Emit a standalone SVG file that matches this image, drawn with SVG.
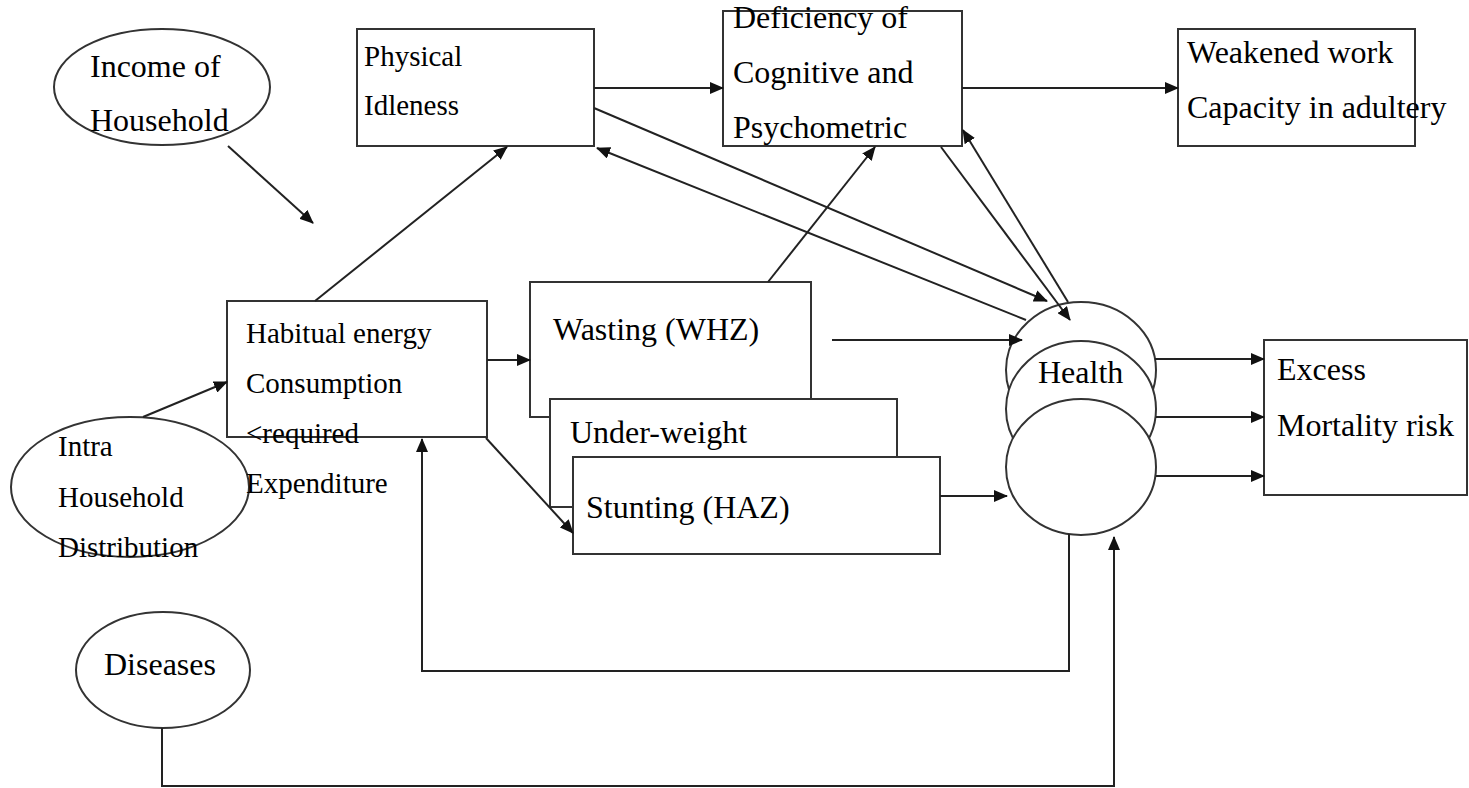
<svg xmlns="http://www.w3.org/2000/svg" width="1469" height="788" viewBox="0 0 1469 788">
<style>
.n{fill:#fff;stroke:#333;stroke-width:2}
.t{font-family:"Liberation Serif","Times New Roman",serif;font-size:32px;fill:#000}
.s{font-size:29px}
.c{fill:none;stroke:#222;stroke-width:2}
</style>
<defs>
<marker id="a" markerUnits="userSpaceOnUse" markerWidth="14" markerHeight="12" refX="13" refY="6" orient="auto">
<path d="M0,0 L14,6 L0,12 Z" fill="#111"/>
</marker>
</defs>
<rect width="1469" height="788" fill="#fff"/>
<g id="income"><ellipse class="n" cx="162" cy="87" rx="108" ry="58"/><text class="t" x="90" y="77">Income of</text><text class="t" x="90" y="131">Household</text></g>
<g id="physical"><rect class="n" x="357" y="29" width="237" height="117"/><text class="t s" x="364" y="66">Physical</text><text class="t s" x="364" y="115">Idleness</text></g>
<g id="deficiency"><rect class="n" x="723" y="11" width="239" height="135"/><text class="t" x="733" y="28">Deficiency of</text><text class="t" x="733" y="83">Cognitive and</text><text class="t" x="733" y="138">Psychometric</text></g>
<g id="weakened"><rect class="n" x="1178" y="29" width="237" height="117"/><text class="t" x="1187" y="63">Weakened work</text><text class="t" x="1187" y="118">Capacity in adultery</text></g>
<g id="intra"><ellipse class="n" cx="130" cy="487" rx="119" ry="70"/></g>
<g id="habitual"><rect class="n" x="227" y="301" width="260" height="136"/></g>
<g id="wasting"><rect class="n" x="530" y="282" width="281" height="135"/><text class="t" x="553" y="340">Wasting (WHZ)</text></g>
<g id="underweight"><rect class="n" x="550" y="399" width="347" height="108"/><text class="t" x="570" y="443">Under-weight</text></g>
<g id="stunting"><rect class="n" x="573" y="457" width="367" height="97"/><text class="t" x="586" y="518">Stunting (HAZ)</text></g>
<g id="health"><ellipse class="n" cx="1081" cy="370" rx="75" ry="68"/><ellipse class="n" cx="1081" cy="409" rx="75" ry="68"/><ellipse class="n" cx="1081" cy="467" rx="75" ry="68"/><text class="t" x="1038" y="383">Health</text></g>
<g id="excess"><rect class="n" x="1264" y="340" width="203" height="155"/><text class="t" x="1277" y="380">Excess</text><text class="t" x="1277" y="436">Mortality risk</text></g>
<g id="diseases"><ellipse class="n" cx="163" cy="670" rx="87" ry="58"/><text class="t" x="104" y="675">Diseases</text></g>
<g id="intra-text"><text class="t s" x="58" y="456">Intra</text><text class="t s" x="58" y="507">Household</text><text class="t s" x="58" y="557">Distribution</text></g>
<g id="habitual-text"><text class="t s" x="246" y="343">Habitual energy</text><text class="t s" x="246" y="393">Consumption</text><text class="t s" x="246" y="443">&lt;required</text><text class="t s" x="246" y="493">Expenditure</text></g>
<g id="connectors" class="c">
<line class="c" x1="594" y1="88" x2="723" y2="88" marker-end="url(#a)"/>
<line class="c" x1="962" y1="88" x2="1178" y2="88" marker-end="url(#a)"/>
<line class="c" x1="228" y1="146" x2="313" y2="223" marker-end="url(#a)"/>
<line class="c" x1="143" y1="417" x2="227" y2="382" marker-end="url(#a)"/>
<line class="c" x1="315" y1="301" x2="507" y2="147" marker-end="url(#a)"/>
<line class="c" x1="487" y1="360" x2="530" y2="360" marker-end="url(#a)"/>
<line class="c" x1="486" y1="438" x2="573" y2="533" marker-end="url(#a)"/>
<line class="c" x1="768" y1="282" x2="875" y2="147" marker-end="url(#a)"/>
<line class="c" x1="594" y1="108" x2="1047" y2="301" marker-end="url(#a)"/>
<line class="c" x1="1026" y1="320" x2="597" y2="148" marker-end="url(#a)"/>
<line class="c" x1="941" y1="147" x2="1070" y2="320" marker-end="url(#a)"/>
<line class="c" x1="1068" y1="302" x2="963" y2="130" marker-end="url(#a)"/>
<line class="c" x1="832" y1="340" x2="1022" y2="340" marker-end="url(#a)"/>
<line class="c" x1="940" y1="496" x2="1007" y2="496" marker-end="url(#a)"/>
<line class="c" x1="1155" y1="359" x2="1264" y2="359" marker-end="url(#a)"/>
<line class="c" x1="1156" y1="417" x2="1264" y2="417" marker-end="url(#a)"/>
<line class="c" x1="1156" y1="476" x2="1264" y2="476" marker-end="url(#a)"/>
<polyline class="c" points="1069,534 1069,671 422,671 422,439" marker-end="url(#a)"/>
<polyline class="c" points="162,728 162,786 1114,786 1114,537" marker-end="url(#a)"/>
</g>
</svg>
